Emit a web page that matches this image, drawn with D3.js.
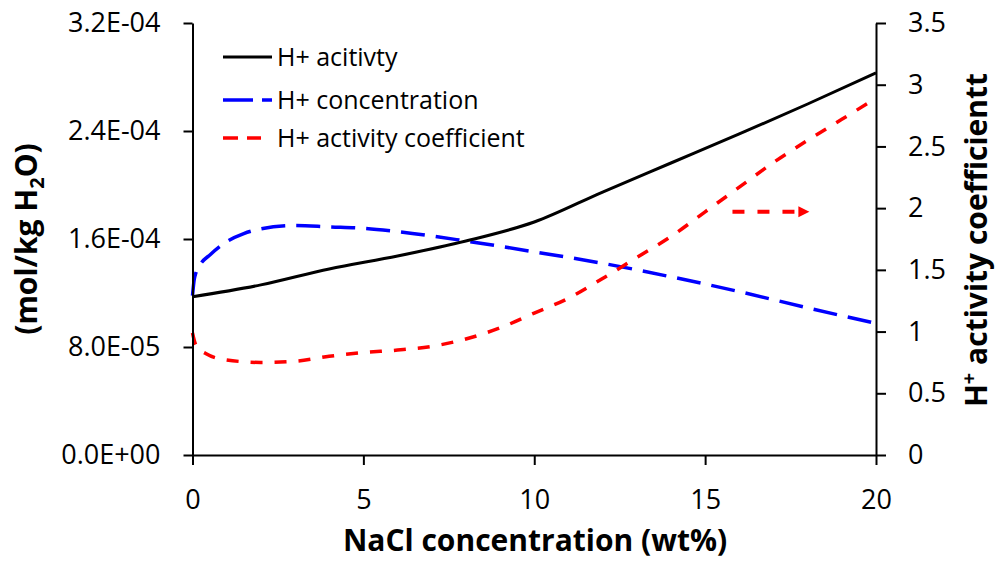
<!DOCTYPE html>
<html>
<head>
<meta charset="utf-8">
<script src="https://cdn.jsdelivr.net/npm/d3@7"></script>
<style>
  html, body { margin: 0; padding: 0; background: #fff; }
  svg { display: block; font-family: "Open Sans", Lato, sans-serif; }
</style>
</head>
<body>
<svg id="chart" width="997" height="567"></svg>
<script>
// NaCl concentration (wt%) at which each curve is sampled
const activityX = [0, 2, 4, 6, 8, 10, 12, 14, 16, 18, 20];
// H+ activity (mol/kg H2O), left axis
const activityY = [1.172e-4, 1.26e-4, 1.378e-4, 1.474e-4, 1.585e-4, 1.726e-4, 1.948e-4, 2.163e-4, 2.378e-4, 2.60e-4, 2.83e-4];

const concX = [0, 0.05, 0.1, 0.25, 0.5, 1, 1.5, 2, 3, 4, 5, 6, 8, 10, 12, 14, 16, 18, 20];
// H+ concentration (mol/kg H2O), left axis
const concY = [1.18e-4, 1.30e-4, 1.35e-4, 1.42e-4, 1.48e-4, 1.58e-4, 1.64e-4, 1.675e-4, 1.70e-4, 1.69e-4, 1.68e-4, 1.655e-4, 1.585e-4, 1.505e-4, 1.42e-4, 1.32e-4, 1.21e-4, 1.09e-4, 9.75e-5];

const coefX = [0, 0.1, 0.4, 1, 2, 3, 4, 5, 6, 7, 8, 9, 10, 11, 12, 13, 14, 15, 16, 17, 18, 19, 20];
// H+ activity coefficient, right axis
const coefY = [0.99, 0.89, 0.82, 0.77, 0.75, 0.76, 0.80, 0.83, 0.85, 0.88, 0.94, 1.03, 1.15, 1.27, 1.43, 1.60, 1.77, 1.97, 2.17, 2.37, 2.55, 2.72, 2.89];

// Axis ticks and their labels
const xTicks = [0, 5, 10, 15, 20];
const leftTicks = [0, 8e-5, 1.6e-4, 2.4e-4, 3.2e-4];
const leftTickLabels = ["0.0E+00", "8.0E-05", "1.6E-04", "2.4E-04", "3.2E-04"];
const rightTicks = [0, 0.5, 1, 1.5, 2, 2.5, 3, 3.5];
const rightTickLabels = ["0", "0.5", "1", "1.5", "2", "2.5", "3", "3.5"];

// Arrow pointing the coefficient curve to the right-hand axis (x from, x to, y)
const arrowX = [15.8, 18.05];
const arrowY = [1.97, 1.97];

const legendLabels = ["H+ acitivty", "H+ concentration", "H+ activity coefficient"];

const svg = d3.select("#chart");
const x = d3.scaleLinear().domain([0, 20]).range([192.5, 876]);
const yL = d3.scaleLinear().domain([0, 3.2e-4]).range([455, 23]);
const yR = d3.scaleLinear().domain([0, 3.5]).range([455, 23]);

function styleAxis(g) {
  g.selectAll("path.domain").attr("stroke", "#000").attr("stroke-width", 2);
  g.selectAll(".tick line").attr("stroke", "#000").attr("stroke-width", 2);
  g.selectAll(".tick text").attr("fill", "#000").style("font-size", "27px")
    .style("font-family", "'Open Sans', Lato, sans-serif");
}

// Curves
const lineAct = d3.line().x((d, i) => x(activityX[i])).y(d => yL(d)).curve(d3.curveMonotoneX);
const lineConc = d3.line().x((d, i) => x(concX[i])).y(d => yL(d)).curve(d3.curveMonotoneX);
const lineCoef = d3.line().x((d, i) => x(coefX[i])).y(d => yR(d)).curve(d3.curveMonotoneX);

svg.append("path").attr("d", lineConc(concY)).attr("fill", "none")
  .attr("stroke", "#0000ff").attr("stroke-width", 3.5).attr("stroke-dasharray", "24,11");
svg.append("path").attr("d", lineCoef(coefY)).attr("fill", "none")
  .attr("stroke", "#ff0000").attr("stroke-width", 3.5).attr("stroke-dasharray", "12,12");
svg.append("path").attr("d", lineAct(activityY)).attr("fill", "none")
  .attr("stroke", "#000").attr("stroke-width", 3);

// Axes
const gx = svg.append("g").attr("transform", "translate(0,455)")
  .call(d3.axisBottom(x).tickValues(xTicks).tickSize(10).tickSizeOuter(0).tickPadding(25)
    .tickFormat(d3.format("d")));
styleAxis(gx);

const gl = svg.append("g").attr("transform", "translate(192.5,0)")
  .call(d3.axisLeft(yL).tickValues(leftTicks).tickSize(9).tickSizeOuter(0).tickPadding(23)
    .tickFormat((d, i) => leftTickLabels[i]));
styleAxis(gl);

const gr = svg.append("g").attr("transform", "translate(876,0)")
  .call(d3.axisRight(yR).tickValues(rightTicks).tickSize(10).tickSizeOuter(0).tickPadding(22)
    .tickFormat((d, i) => rightTickLabels[i]));
styleAxis(gr);

// Arrow
const ax0 = x(arrowX[0]), ax1 = x(arrowX[1]), ay = yR(arrowY[0]);
svg.append("line").attr("x1", ax0).attr("x2", ax1 - 9).attr("y1", ay).attr("y2", ay)
  .attr("stroke", "#ff0000").attr("stroke-width", 4).attr("stroke-dasharray", "12,13");
svg.append("path")
  .attr("d", `M${ax1},${ay} L${ax1 - 11},${ay - 5.5} L${ax1 - 11},${ay + 5.5} Z`)
  .attr("fill", "#ff0000");

// Axis titles
svg.append("text").attr("x", 535).attr("y", 551).attr("text-anchor", "middle")
  .style("font-size", "30px").style("font-weight", "bold").text("NaCl concentration (wt%)");

const lt = svg.append("text").attr("transform", "translate(37,239) rotate(-90)")
  .attr("text-anchor", "middle").style("font-size", "30px").style("font-weight", "bold");
lt.append("tspan").text("(mol/kg H");
lt.append("tspan").attr("dy", 7).style("font-size", "20px").text("2");
lt.append("tspan").attr("dy", -7).text("O)");

const rt = svg.append("text").attr("transform", "translate(987,240) rotate(-90)")
  .attr("text-anchor", "middle").style("font-size", "30px").style("font-weight", "bold");
rt.append("tspan").text("H");
rt.append("tspan").attr("dy", -11).style("font-size", "20px").text("+");
rt.append("tspan").attr("dy", 11).text(" activity coefficientt");

// Legend
const legendY = [57, 100, 138];
const lg = svg.append("g");
lg.append("line").attr("x1", 223).attr("x2", 272).attr("y1", legendY[0]).attr("y2", legendY[0])
  .attr("stroke", "#000").attr("stroke-width", 3);
lg.append("line").attr("x1", 223).attr("x2", 272).attr("y1", legendY[1]).attr("y2", legendY[1])
  .attr("stroke", "#0000ff").attr("stroke-width", 3.5).attr("stroke-dasharray", "30,9");
lg.append("line").attr("x1", 223).attr("x2", 261).attr("y1", legendY[2]).attr("y2", legendY[2])
  .attr("stroke", "#ff0000").attr("stroke-width", 3.5).attr("stroke-dasharray", "15,9");
legendLabels.forEach((t, i) => {
  lg.append("text").attr("x", 277).attr("y", legendY[i] + 9)
    .style("font-size", "25px").attr("fill", "#000").text(t);
});
</script>
</body>
</html>
